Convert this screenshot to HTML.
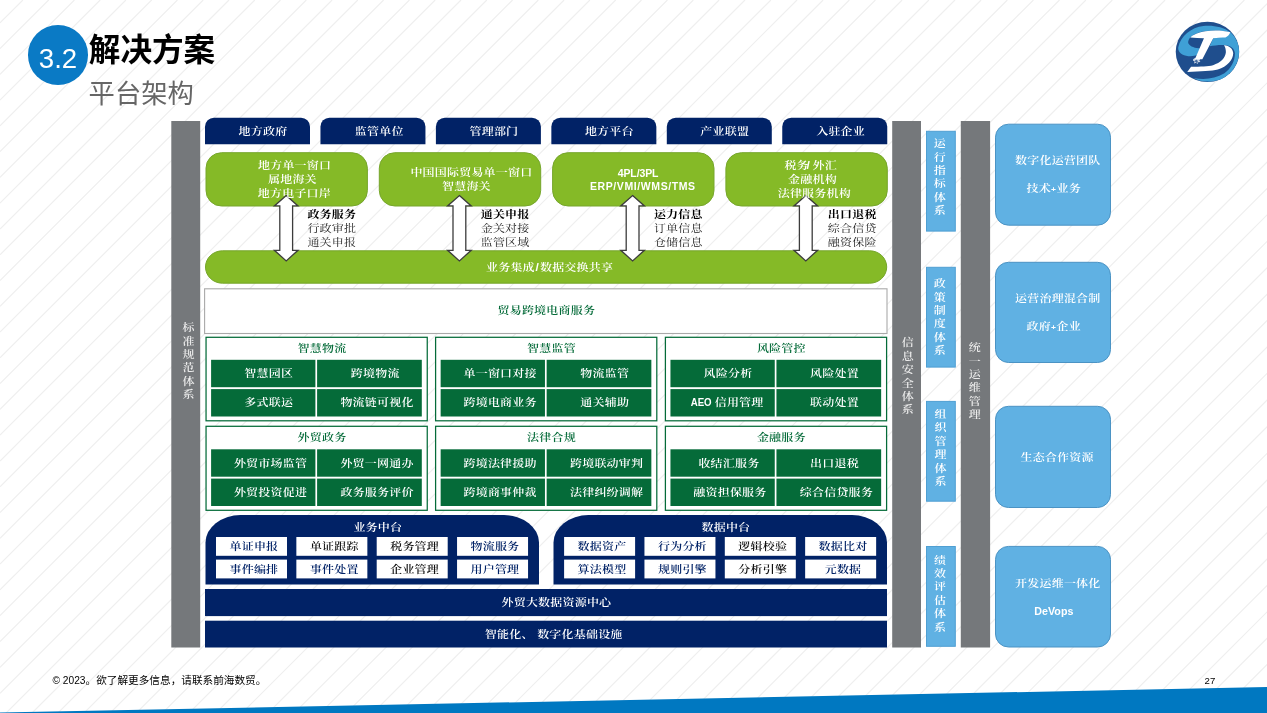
<!DOCTYPE html>
<html lang="zh-CN"><head><meta charset="utf-8"><title>解决方案 - 平台架构</title>
<style>
*{box-sizing:border-box;margin:0;padding:0}
html,body{width:1267px;height:713px;background:#fff;overflow:hidden}
body{position:relative;font-family:"Liberation Sans","Noto Serif CJK SC",serif;font-size:12px;line-height:1}
#stage{position:absolute;left:0;top:0;width:1267px;height:713px;overflow:hidden;background:#fff;will-change:transform}
.a{position:absolute}
.bg{position:absolute;left:0;top:0}
.t{position:absolute;white-space:nowrap;height:14px;line-height:14px;font-size:12px;letter-spacing:0.2px;font-weight:600;transform:scaleY(0.87)}
.v{position:absolute;width:14px;text-align:center;font-size:12px;font-weight:600}
.v span{display:block;height:14px;line-height:14px;transform:scaleY(0.87)}
.w{color:#fff}
.k{color:#000;font-weight:700}
.r{color:#1c1c1c;font-weight:400}
.dg{color:#056b39}
.nv{color:#012266}
.k6{color:#111}
.lat{font-family:"Liberation Sans",sans-serif;font-weight:700;letter-spacing:0}
.t.lat{transform:scaleY(.96)}
.sans{font-family:"Liberation Sans","Noto Sans CJK SC",sans-serif}
</style></head><body><div id="stage">
<svg class="bg" width="1267" height="713" viewBox="0 0 1267 713"><path d="M22.9 0L0 22.9M48.7 0L0 48.7M74.4 0L0 74.4M100.2 0L0 100.2M125.9 0L0 125.9M151.7 0L0 151.7M177.4 0L0 177.4M203.2 0L0 203.2M229.0 0L0 229.0M254.8 0L0 254.8M280.5 0L0 280.5M306.3 0L0 306.3M332.1 0L0 332.1M357.8 0L0 357.8M383.6 0L0 383.6M409.4 0L0 409.4M435.2 0L0 435.2M461.0 0L0 461.0M486.8 0L0 486.8M512.6 0L0 512.6M538.3 0L0 538.3M564.1 0L0 564.1M589.9 0L0 589.9M615.7 0L0 615.7M641.5 0L0 641.5M667.4 0L0 667.4M693.3 0L0 693.3M719.1 0L0 719.1M745.0 0L0 745.0M770.9 0L0 770.9M797.0 0L0 797.0M823.1 0L0 823.1M849.3 0L0 849.3M875.4 0L0 875.4M902.1 0L0 902.1M928.9 0L0 928.9M955.0 0L0 955.0M981.1 0L0 981.1M1007.3 0L0 1007.3M1033.4 0L0 1033.4M1059.5 0L0 1059.5M1085.9 0L0 1085.9M1112.3 0L0 1112.3M1138.7 0L0 1138.7M1165.1 0L0 1165.1M1191.5 0L0 1191.5M1218.0 0L0 1218.0M1244.4 0L0 1244.4M1270.8 0L0 1270.8M1297.2 0L0 1297.2M1323.6 0L0 1323.6M1350.0 0L0 1350.0M1376.4 0L0 1376.4M1402.8 0L0 1402.8M1429.2 0L0 1429.2M1455.6 0L0 1455.6M1482.0 0L0 1482.0M1508.5 0L0 1508.5M1534.9 0L0 1534.9M1561.3 0L0 1561.3M1587.7 0L0 1587.7M1614.1 0L0 1614.1M1640.5 0L0 1640.5M1667.2 0L0 1667.2M1693.8 0L0 1693.8M1720.5 0L0 1720.5M1747.2 0L0 1747.2M1773.5 0L0 1773.5M1799.9 0L0 1799.9M1826.2 0L0 1826.2M1852.6 0L0 1852.6M1879.0 0L0 1879.0M1905.3 0L0 1905.3M1931.7 0L0 1931.7M1958.0 0L0 1958.0" stroke="#efefef" stroke-width="1.2" fill="none"/></svg>
<svg class="bg" width="1267" height="713" viewBox="0 0 1267 713"><polygon points="0,712.6 1267,687.1 1267,713 0,713" fill="#0078c1"/></svg>
<div class="a" style="left:27.8px;top:25.3px;width:60.5px;height:60px;border-radius:50%;background:#0a7ac5"></div>
<div class="a sans" style="left:28px;top:28.5px;width:60px;height:60px;line-height:60px;text-align:center;color:#fff;font-size:27.6px">3.2</div>
<div class="a sans" style="left:88.8px;top:27.8px;font-weight:700;font-size:31.6px;line-height:44px;color:#000;white-space:nowrap">解决方案</div>
<div class="a sans" style="left:88.6px;top:72.3px;font-weight:400;font-size:26.3px;line-height:44px;color:#666;white-space:nowrap">平台架构</div>
<svg class="a" style="left:1172px;top:18px" width="72" height="68" viewBox="0 0 755 713">
<ellipse cx="372" cy="355" rx="333" ry="316" fill="#1f4e8d"/>
<path d="M610 150C540 95 430 75 330 85C200 100 90 190 65 310C60 360 110 395 170 400C220 403 265 392 290 378L315 318C260 322 190 305 172 268C160 232 195 185 255 162C350 128 480 122 610 150Z" fill="#3fa0d6"/>
<path d="M432 212C500 205 560 200 612 150C670 200 705 280 703 360C700 470 640 580 520 640C420 680 300 670 225 628C330 650 450 640 550 580C620 530 660 450 660 370C655 320 620 290 560 285C500 280 440 290 395 295Z" fill="#3fa0d6"/>
<path d="M192 205C215 175 280 150 350 138C440 124 530 128 612 150C600 175 585 195 560 205C520 205 470 208 432 212L318 432L240 432L335 212C290 212 240 210 192 205Z" fill="#fff"/>
<path d="M545 285C600 290 640 320 642 370C640 440 580 510 480 540C420 555 300 560 160 565L200 512C300 510 380 508 430 495C510 470 560 420 565 360C565 330 560 305 545 285Z" fill="#fff"/>
<path d="M222 432l22-14 10 14 18-20 8 18 20-6-14 22 12 16-24 2-6 18-16-14-22 10 8-22-18-10z" fill="#fff" opacity=".8"/>
<path d="M238 440l14 4 8-10 4 14 12-2-8 12 6 10-14-2-8 10-2-14-14-2 10-8z" fill="#1f4e8d" opacity=".8"/>
</svg>
<svg class="bg" width="1267" height="713" viewBox="0 0 1267 713">
<rect x="171.3" y="121" width="28.9" height="526.5" fill="#75787b"/>
<rect x="892.2" y="121" width="28.8" height="526.5" fill="#75787b"/>
<rect x="960.8" y="121" width="29.3" height="526.5" fill="#75787b"/>
<path d="M205 144.2V126.7A9 9 0 0 1 214 117.7H301A9 9 0 0 1 310 126.7V144.2Z" fill="#012266"/>
<path d="M320.45 144.2V126.7A9 9 0 0 1 329.45 117.7H416.45A9 9 0 0 1 425.45 126.7V144.2Z" fill="#012266"/>
<path d="M435.9 144.2V126.7A9 9 0 0 1 444.9 117.7H531.9A9 9 0 0 1 540.9 126.7V144.2Z" fill="#012266"/>
<path d="M551.35 144.2V126.7A9 9 0 0 1 560.35 117.7H647.35A9 9 0 0 1 656.35 126.7V144.2Z" fill="#012266"/>
<path d="M666.8 144.2V126.7A9 9 0 0 1 675.8 117.7H762.8A9 9 0 0 1 771.8 126.7V144.2Z" fill="#012266"/>
<path d="M782.25 144.2V126.7A9 9 0 0 1 791.25 117.7H878.25A9 9 0 0 1 887.25 126.7V144.2Z" fill="#012266"/>
<rect x="206" y="152.7" width="161.4" height="53.3" rx="15.5" ry="15.5" fill="#85ba27" stroke="#76a62c"/>
<rect x="379.3" y="152.7" width="161.4" height="53.3" rx="15.5" ry="15.5" fill="#85ba27" stroke="#76a62c"/>
<rect x="552.6" y="152.7" width="161.4" height="53.3" rx="15.5" ry="15.5" fill="#85ba27" stroke="#76a62c"/>
<rect x="725.9" y="152.7" width="161.4" height="53.3" rx="15.5" ry="15.5" fill="#85ba27" stroke="#76a62c"/>
<rect x="205.5" y="250.8" width="681.2" height="32.4" rx="17" ry="17" fill="#85ba27" stroke="#76a62c"/>
<rect x="204.6" y="288.8" width="682.4" height="44.7" fill="#fff" stroke="#a9a9a9" stroke-width="1.1"/>
<rect x="206.05" y="337.3" width="221.2" height="83.5" fill="#fff" stroke="#056b39" stroke-width="1.25"/>
<rect x="211.1" y="359.8" width="104.3" height="27.4" fill="#056b39"/>
<rect x="317.1" y="359.8" width="104.7" height="27.4" fill="#056b39"/>
<rect x="211.1" y="389.1" width="104.3" height="27.4" fill="#056b39"/>
<rect x="317.1" y="389.1" width="104.7" height="27.4" fill="#056b39"/>
<rect x="435.6" y="337.3" width="221.2" height="83.5" fill="#fff" stroke="#056b39" stroke-width="1.25"/>
<rect x="440.65" y="359.8" width="104.3" height="27.4" fill="#056b39"/>
<rect x="546.65" y="359.8" width="104.7" height="27.4" fill="#056b39"/>
<rect x="440.65" y="389.1" width="104.3" height="27.4" fill="#056b39"/>
<rect x="546.65" y="389.1" width="104.7" height="27.4" fill="#056b39"/>
<rect x="665.4" y="337.3" width="221.2" height="83.5" fill="#fff" stroke="#056b39" stroke-width="1.25"/>
<rect x="670.45" y="359.8" width="104.3" height="27.4" fill="#056b39"/>
<rect x="776.45" y="359.8" width="104.7" height="27.4" fill="#056b39"/>
<rect x="670.45" y="389.1" width="104.3" height="27.4" fill="#056b39"/>
<rect x="776.45" y="389.1" width="104.7" height="27.4" fill="#056b39"/>
<rect x="206.05" y="426.3" width="221.2" height="84" fill="#fff" stroke="#056b39" stroke-width="1.25"/>
<rect x="211.1" y="449.3" width="104.3" height="27.4" fill="#056b39"/>
<rect x="317.1" y="449.3" width="104.7" height="27.4" fill="#056b39"/>
<rect x="211.1" y="478.6" width="104.3" height="27.4" fill="#056b39"/>
<rect x="317.1" y="478.6" width="104.7" height="27.4" fill="#056b39"/>
<rect x="435.6" y="426.3" width="221.2" height="84" fill="#fff" stroke="#056b39" stroke-width="1.25"/>
<rect x="440.65" y="449.3" width="104.3" height="27.4" fill="#056b39"/>
<rect x="546.65" y="449.3" width="104.7" height="27.4" fill="#056b39"/>
<rect x="440.65" y="478.6" width="104.3" height="27.4" fill="#056b39"/>
<rect x="546.65" y="478.6" width="104.7" height="27.4" fill="#056b39"/>
<rect x="665.4" y="426.3" width="221.2" height="84" fill="#fff" stroke="#056b39" stroke-width="1.25"/>
<rect x="670.45" y="449.3" width="104.3" height="27.4" fill="#056b39"/>
<rect x="776.45" y="449.3" width="104.7" height="27.4" fill="#056b39"/>
<rect x="670.45" y="478.6" width="104.3" height="27.4" fill="#056b39"/>
<rect x="776.45" y="478.6" width="104.7" height="27.4" fill="#056b39"/>
<path d="M205.5 584.6V542.6A35 27.5 0 0 1 240.5 515.1H504A35 27.5 0 0 1 539 542.6V584.6Z" fill="#012266"/>
<rect x="216" y="537" width="71" height="18.8" fill="#fff"/>
<rect x="296.35" y="537" width="71" height="18.8" fill="#fff"/>
<rect x="376.7" y="537" width="71" height="18.8" fill="#fff"/>
<rect x="457.05" y="537" width="71" height="18.8" fill="#fff"/>
<rect x="216" y="559.6" width="71" height="18.8" fill="#fff"/>
<rect x="296.35" y="559.6" width="71" height="18.8" fill="#fff"/>
<rect x="376.7" y="559.6" width="71" height="18.8" fill="#fff"/>
<rect x="457.05" y="559.6" width="71" height="18.8" fill="#fff"/>
<path d="M553.5 584.6V542.6A35 27.5 0 0 1 588.5 515.1H852A35 27.5 0 0 1 887 542.6V584.6Z" fill="#012266"/>
<rect x="564.1" y="537" width="71" height="18.8" fill="#fff"/>
<rect x="644.45" y="537" width="71" height="18.8" fill="#fff"/>
<rect x="724.8" y="537" width="71" height="18.8" fill="#fff"/>
<rect x="805.15" y="537" width="71" height="18.8" fill="#fff"/>
<rect x="564.1" y="559.6" width="71" height="18.8" fill="#fff"/>
<rect x="644.45" y="559.6" width="71" height="18.8" fill="#fff"/>
<rect x="724.8" y="559.6" width="71" height="18.8" fill="#fff"/>
<rect x="805.15" y="559.6" width="71" height="18.8" fill="#fff"/>
<rect x="205" y="589" width="682" height="27.1" fill="#012266"/>
<rect x="205" y="620.7" width="682" height="26.8" fill="#012266"/>
<rect x="926.5" y="131.3" width="28.8" height="99.8" fill="#60b1e3" stroke="#4f9fd2"/>
<rect x="926.5" y="267.3" width="28.8" height="99.8" fill="#60b1e3" stroke="#4f9fd2"/>
<rect x="926.5" y="401.4" width="28.8" height="99.8" fill="#60b1e3" stroke="#4f9fd2"/>
<rect x="926.5" y="546.5" width="28.8" height="99.8" fill="#60b1e3" stroke="#4f9fd2"/>
<rect x="995.5" y="124.2" width="115" height="101" rx="13" ry="13" fill="#60b1e3" stroke="#4b93c4"/>
<rect x="995.5" y="262.3" width="115" height="100.2" rx="13" ry="13" fill="#60b1e3" stroke="#4b93c4"/>
<rect x="995.5" y="406.3" width="115" height="101.2" rx="13" ry="13" fill="#60b1e3" stroke="#4b93c4"/>
<rect x="995.5" y="546.4" width="115" height="100.6" rx="13" ry="13" fill="#60b1e3" stroke="#4b93c4"/>
<polygon points="286.2,195.5 298.0,205.9 292.6,205.9 292.6,250.3 298.0,250.3 286.2,260.9 274.4,250.3 279.8,250.3 279.8,205.9 274.4,205.9" fill="#fff" stroke="#3c3c3c" stroke-width="1.3"/>
<polygon points="459.4,195.5 471.2,205.9 465.8,205.9 465.8,250.3 471.2,250.3 459.4,260.9 447.6,250.3 453.0,250.3 453.0,205.9 447.6,205.9" fill="#fff" stroke="#3c3c3c" stroke-width="1.3"/>
<polygon points="632.6,195.5 644.4,205.9 639.0,205.9 639.0,250.3 644.4,250.3 632.6,260.9 620.8,250.3 626.2,250.3 626.2,205.9 620.8,205.9" fill="#fff" stroke="#3c3c3c" stroke-width="1.3"/>
<polygon points="805.8,195.5 817.6,205.9 812.2,205.9 812.2,250.3 817.6,250.3 805.8,260.9 794.0,250.3 799.4,250.3 799.4,205.9 794.0,205.9" fill="#fff" stroke="#3c3c3c" stroke-width="1.3"/>
</svg>
<div class="v w" style="left:181.5px;top:321.1px;color:#ebebeb"><span>标</span></div>
<div class="v w" style="left:181.5px;top:334.5px;color:#ebebeb"><span>准</span></div>
<div class="v w" style="left:181.5px;top:347.9px;color:#ebebeb"><span>规</span></div>
<div class="v w" style="left:181.5px;top:361.3px;color:#ebebeb"><span>范</span></div>
<div class="v w" style="left:181.5px;top:374.7px;color:#ebebeb"><span>体</span></div>
<div class="v w" style="left:181.5px;top:388.1px;color:#ebebeb"><span>系</span></div>
<div class="v w" style="left:900.7px;top:336.3px;color:#ebebeb"><span>信</span></div>
<div class="v w" style="left:900.7px;top:349.7px;color:#ebebeb"><span>息</span></div>
<div class="v w" style="left:900.7px;top:363.1px;color:#ebebeb"><span>安</span></div>
<div class="v w" style="left:900.7px;top:376.5px;color:#ebebeb"><span>全</span></div>
<div class="v w" style="left:900.7px;top:389.9px;color:#ebebeb"><span>体</span></div>
<div class="v w" style="left:900.7px;top:403.3px;color:#ebebeb"><span>系</span></div>
<div class="v w" style="left:967.7px;top:341.1px;color:#ebebeb"><span>统</span></div>
<div class="v w" style="left:967.7px;top:354.5px;color:#ebebeb"><span>一</span></div>
<div class="v w" style="left:967.7px;top:367.9px;color:#ebebeb"><span>运</span></div>
<div class="v w" style="left:967.7px;top:381.3px;color:#ebebeb"><span>维</span></div>
<div class="v w" style="left:967.7px;top:394.7px;color:#ebebeb"><span>管</span></div>
<div class="v w" style="left:967.7px;top:408.1px;color:#ebebeb"><span>理</span></div>
<div class="t w" style="left:238.6px;top:125.0px">地方政府</div>
<div class="t w" style="left:354.8px;top:125.0px">监管单位</div>
<div class="t w" style="left:469.5px;top:125.0px">管理部门</div>
<div class="t w" style="left:584.9px;top:125.0px">地方平台</div>
<div class="t w" style="left:700.3px;top:125.0px">产业联盟</div>
<div class="t w" style="left:816.2px;top:125.0px">入驻企业</div>
<div class="t w" style="left:258.0px;top:158.9px">地方单一窗口</div>
<div class="t w" style="left:268.0px;top:172.9px">属地海关</div>
<div class="t w" style="left:257.8px;top:186.9px">地方电子口岸</div>
<div class="t w" style="left:410.4px;top:165.8px">中国国际贸易单一窗口</div>
<div class="t w" style="left:442.0px;top:179.7px">智慧海关</div>
<div class="t w lat" style="left:617.7px;top:166.3px;font-size:10.5px;letter-spacing:-.1px">4PL/3PL</div>
<div class="t w lat" style="left:589.9px;top:179.4px;font-size:10.5px;letter-spacing:.6px">ERP/VMI/WMS/TMS</div>
<div class="t w" style="left:784.4px;top:158.9px">税务<span class="lat" style="margin-left:-2.4px">/</span><span style="letter-spacing:-.6px"> </span>外汇</div>
<div class="t w" style="left:788.1px;top:172.9px">金融机构</div>
<div class="t w" style="left:777.7px;top:186.9px">法律服务机构</div>
<div class="t w" style="left:486.0px;top:260.5px">业务集成<span class="lat" style="padding:0 1.2px 0 .6px">/</span>数据交换共享</div>
<div class="t k" style="left:307.4px;top:207.7px">政务服务</div>
<div class="t r" style="left:307.4px;top:221.8px">行政审批</div>
<div class="t r" style="left:307.4px;top:235.6px">通关申报</div>
<div class="t k" style="left:480.7px;top:207.7px">通关申报</div>
<div class="t r" style="left:480.7px;top:221.8px">金关对接</div>
<div class="t r" style="left:480.7px;top:235.6px">监管区域</div>
<div class="t k" style="left:653.9px;top:207.7px">运力信息</div>
<div class="t r" style="left:653.9px;top:221.8px">订单信息</div>
<div class="t r" style="left:653.9px;top:235.6px">仓储信息</div>
<div class="t k" style="left:827.8px;top:207.7px">出口退税</div>
<div class="t r" style="left:827.8px;top:221.8px">综合信贷</div>
<div class="t r" style="left:827.8px;top:235.6px">融资保险</div>
<div class="t dg" style="left:497.5px;top:304.2px">贸易跨境电商服务</div>
<div class="t dg" style="left:297.6px;top:341.5px">智慧物流</div>
<div class="t w" style="left:244.3px;top:367.0px">智慧园区</div>
<div class="t w" style="left:350.8px;top:367.0px">跨境物流</div>
<div class="t w" style="left:244.3px;top:396.3px">多式联运</div>
<div class="t w" style="left:340.4px;top:396.3px">物流链可视化</div>
<div class="t dg" style="left:527.1px;top:341.5px">智慧监管</div>
<div class="t w" style="left:463.5px;top:367.0px">单一窗口对接</div>
<div class="t w" style="left:580.3px;top:367.0px">物流监管</div>
<div class="t w" style="left:463.5px;top:396.3px">跨境电商业务</div>
<div class="t w" style="left:580.3px;top:396.3px">通关辅助</div>
<div class="t dg" style="left:756.9px;top:341.5px">风险管控</div>
<div class="t w" style="left:703.6px;top:367.0px">风险分析</div>
<div class="t w" style="left:810.1px;top:367.0px">风险处置</div>
<div class="t w lat" style="left:690.8px;top:396.0px;font-size:9.7px;letter-spacing:-.1px;transform:scaleY(1.05)">AEO</div>
<div class="t w" style="left:714.7px;top:396.3px">信用管理</div>
<div class="t w" style="left:810.1px;top:396.3px">联动处置</div>
<div class="t dg" style="left:297.6px;top:430.5px">外贸政务</div>
<div class="t w" style="left:233.9px;top:456.5px">外贸市场监管</div>
<div class="t w" style="left:340.4px;top:456.5px">外贸一网通办</div>
<div class="t w" style="left:233.9px;top:485.8px">外贸投资促进</div>
<div class="t w" style="left:340.4px;top:485.8px">政务服务评价</div>
<div class="t dg" style="left:527.1px;top:430.5px">法律合规</div>
<div class="t w" style="left:463.5px;top:456.5px">跨境法律援助</div>
<div class="t w" style="left:570.0px;top:456.5px">跨境联动审判</div>
<div class="t w" style="left:463.5px;top:485.8px">跨境商事仲裁</div>
<div class="t w" style="left:570.0px;top:485.8px">法律纠纷调解</div>
<div class="t dg" style="left:756.9px;top:430.5px">金融服务</div>
<div class="t w" style="left:698.4px;top:456.5px">收结汇服务</div>
<div class="t w" style="left:810.1px;top:456.5px">出口退税</div>
<div class="t w" style="left:693.3px;top:485.8px">融资担保服务</div>
<div class="t w" style="left:799.8px;top:485.8px">综合信贷服务</div>
<div class="t w" style="left:353.4px;top:520.5px">业务中台</div>
<div class="t nv" style="left:229.5px;top:540.2px">单证申报</div>
<div class="t k6" style="left:309.9px;top:540.2px">单证跟踪</div>
<div class="t k6" style="left:390.2px;top:540.2px">税务管理</div>
<div class="t nv" style="left:470.5px;top:540.2px">物流服务</div>
<div class="t nv" style="left:229.5px;top:562.8px">事件编排</div>
<div class="t nv" style="left:309.9px;top:562.8px">事件处置</div>
<div class="t k6" style="left:390.2px;top:562.8px">企业管理</div>
<div class="t nv" style="left:470.5px;top:562.8px">用户管理</div>
<div class="t w" style="left:701.5px;top:520.5px">数据中台</div>
<div class="t nv" style="left:577.6px;top:540.2px">数据资产</div>
<div class="t nv" style="left:658.0px;top:540.2px">行为分析</div>
<div class="t k6" style="left:738.3px;top:540.2px">逻辑校验</div>
<div class="t nv" style="left:818.6px;top:540.2px">数据比对</div>
<div class="t nv" style="left:577.6px;top:562.8px">算法模型</div>
<div class="t nv" style="left:658.0px;top:562.8px">规则引擎</div>
<div class="t k6" style="left:738.3px;top:562.8px">分析引擎</div>
<div class="t nv" style="left:824.7px;top:562.8px">元数据</div>
<div class="t w" style="left:501.5px;top:596.4px">外贸大数据资源中心</div>
<div class="t w" style="left:484.8px;top:627.7px">智能化、 数字化基础设施</div>
<div class="v w" style="left:932.8px;top:137.2px"><span>运</span></div>
<div class="v w" style="left:932.8px;top:150.6px"><span>行</span></div>
<div class="v w" style="left:932.8px;top:164.0px"><span>指</span></div>
<div class="v w" style="left:932.8px;top:177.4px"><span>标</span></div>
<div class="v w" style="left:932.8px;top:190.8px"><span>体</span></div>
<div class="v w" style="left:932.8px;top:204.2px"><span>系</span></div>
<div class="v w" style="left:932.8px;top:277.2px"><span>政</span></div>
<div class="v w" style="left:932.8px;top:290.6px"><span>策</span></div>
<div class="v w" style="left:932.8px;top:304.0px"><span>制</span></div>
<div class="v w" style="left:932.8px;top:317.4px"><span>度</span></div>
<div class="v w" style="left:932.8px;top:330.8px"><span>体</span></div>
<div class="v w" style="left:932.8px;top:344.2px"><span>系</span></div>
<div class="v w" style="left:933.6px;top:407.9px"><span>组</span></div>
<div class="v w" style="left:933.6px;top:421.3px"><span>织</span></div>
<div class="v w" style="left:933.6px;top:434.7px"><span>管</span></div>
<div class="v w" style="left:933.6px;top:448.1px"><span>理</span></div>
<div class="v w" style="left:933.6px;top:461.5px"><span>体</span></div>
<div class="v w" style="left:933.6px;top:474.9px"><span>系</span></div>
<div class="v w" style="left:933.1px;top:553.5px"><span>绩</span></div>
<div class="v w" style="left:933.1px;top:566.9px"><span>效</span></div>
<div class="v w" style="left:933.1px;top:580.3px"><span>评</span></div>
<div class="v w" style="left:933.1px;top:593.7px"><span>估</span></div>
<div class="v w" style="left:933.1px;top:607.1px"><span>体</span></div>
<div class="v w" style="left:933.1px;top:620.5px"><span>系</span></div>
<div class="t w" style="left:1015.1px;top:154.4px">数字化运营团队</div>
<div class="t w" style="left:1026.5px;top:182.2px">技术<span class="lat" style="font-size:8.5px">+</span><span style="letter-spacing:-2.6px"> </span>业务</div>
<div class="t w" style="left:1015.1px;top:291.9px">运营治理混合制</div>
<div class="t w" style="left:1026.5px;top:319.7px">政府<span class="lat" style="font-size:8.5px">+</span><span style="letter-spacing:-2.6px"> </span>企业</div>
<div class="t w" style="left:1020.5px;top:450.8px">生态合作资源</div>
<div class="t w" style="left:1015.1px;top:577.0px">开发运维一体化</div>
<div class="t w lat" style="left:1034.2px;top:603.5px;font-size:10.7px;letter-spacing:.05px">DeVops</div>
<div class="a sans" style="left:52.5px;top:674px;font-size:10.65px;line-height:13px;color:#000;white-space:nowrap"><span style="font-size:10.2px">© 2023</span>。欲了解更多信息，请联系前海数贸。</div>
<div class="a sans" style="left:1204.6px;top:674.2px;font-size:9.6px;line-height:13px;color:#000;white-space:nowrap">27</div>
</div></body></html>
